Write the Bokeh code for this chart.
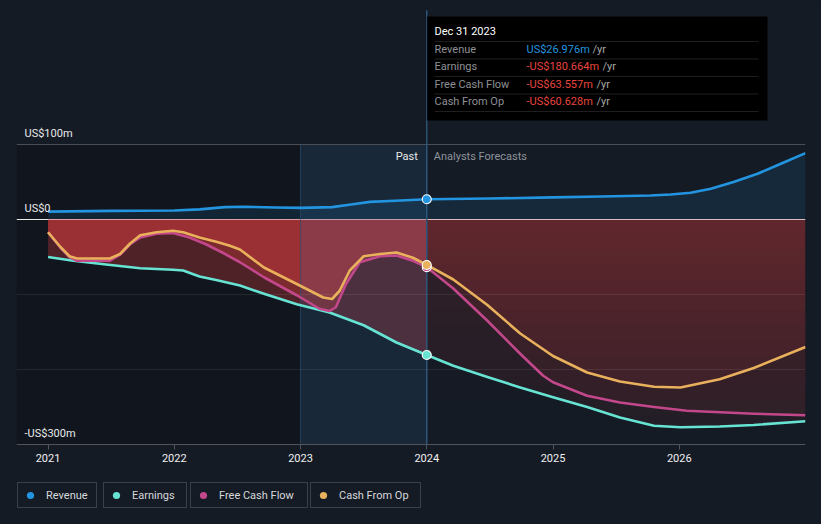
import numpy as np
from bokeh.plotting import figure
from bokeh.models import (Range1d, LinearAxis, FixedTicker, Span, BoxAnnotation, Label,
                          Legend, LegendItem, GlobalInlineStyleSheet)
from bokeh.embed import file_html
from bokeh.resources import INLINE

# ---------------- data (US$ millions, decimal years) ----------------
rev_t = [2021.0, 2021.5, 2022.0, 2022.2, 2022.4, 2022.55, 2022.8, 2023.0, 2023.25, 2023.4,
         2023.55, 2023.75, 2024.0, 2024.5, 2025.0, 2025.38, 2025.77, 2025.93, 2026.09, 2026.25,
         2026.43, 2026.62, 2026.8, 2027.0]
rev_v = [10.5, 11.5, 12.0, 13.5, 16.5, 17.0, 16.0, 15.5, 16.5, 20.0,
         23.5, 25.0, 26.976, 28.0, 29.5, 30.7, 32.0, 33.3, 35.6, 41.0,
         50.0, 61.0, 74.0, 88.5]

earn_t = [2021.0, 2021.2, 2021.46, 2021.73, 2021.99, 2022.07, 2022.2, 2022.34, 2022.52, 2022.71,
          2022.97, 2023.23, 2023.5, 2023.76, 2024.0, 2024.21, 2024.48, 2024.74, 2025.0, 2025.27,
          2025.53, 2025.8, 2026.01, 2026.32, 2026.59, 2027.0]
earn_v = [-50, -55, -60, -65, -67, -68, -76, -81, -88, -99,
          -113, -124, -141, -164, -180.664, -195, -210, -224, -237, -250,
          -264, -275, -277, -276, -274, -269]

fcf_t = [2021.0, 2021.1, 2021.17, 2021.23, 2021.49, 2021.57, 2021.65, 2021.73, 2021.86, 2021.99,
         2022.12, 2022.25, 2022.38, 2022.52, 2022.71, 2022.97, 2023.15, 2023.23, 2023.28, 2023.36,
         2023.47, 2023.63, 2023.76, 2023.89, 2024.0, 2024.21, 2024.48, 2024.74, 2024.92, 2025.0,
         2025.27, 2025.53, 2025.8, 2026.06, 2026.59, 2027.0]
fcf_v = [-17, -38, -50, -55, -55, -47, -33, -24, -19, -18,
         -24, -33, -44, -57, -77, -101, -119, -122, -117, -86,
         -57, -49, -48, -55, -63.557, -92, -135, -179, -208, -217,
         -235, -244, -250, -255, -259, -261]

cfo_t = [2021.0, 2021.1, 2021.17, 2021.23, 2021.49, 2021.57, 2021.65, 2021.73, 2021.86, 2021.99,
         2022.07, 2022.2, 2022.34, 2022.44, 2022.52, 2022.71, 2022.97, 2023.18, 2023.25, 2023.31,
         2023.39, 2023.5, 2023.63, 2023.76, 2023.89, 2024.0, 2024.21, 2024.48, 2024.74, 2025.0,
         2025.27, 2025.53, 2025.8, 2026.01, 2026.32, 2026.59, 2027.0]
cfo_v = [-17, -37, -49, -52, -52, -46, -32, -21, -17, -15,
         -17, -24, -30, -35, -40, -64, -86, -104, -106, -95,
         -68, -49, -46, -44, -51, -60.628, -80, -114, -152, -182,
         -204, -216, -223, -224, -213, -198, -170]

series_names = ["Revenue", "Earnings", "Free Cash Flow", "Cash From Op"]
year_ticks = [2021, 2022, 2023, 2024, 2025, 2026]
year_labels = ["2021", "2022", "2023", "2024", "2025", "2026"]
y_label_ticks = [100, 0, -300]
y_label_texts = ["US$100m", "US$0", "-US$300m"]
grid_ticks = [-100, -200]
top_grid = 100

now_t = 2024.0          # last reported point / start of forecasts
past_start = 2023.0     # highlighted "Past" band start
tooltip_date = "Dec 31 2023"
tooltip_values = [26.976, -180.664, -63.557, -60.628]

# ---------------- style ----------------
BG = "#151b25"
REV_C = "#2394df"
EARN_C = "#67e3d3"
FCF_C = "#c2478b"
CFO_C = "#e9b15c"
COLORS = [REV_C, EARN_C, FCF_C, CFO_C]
RED = "#e0403f"
FONT = "Roboto"
W, H = 821, 524

X0, X1 = 2020.75, 2027.0
PPX = 789 / (X1 - X0)       # pixels per year in frame (frame spans page x 16..805)
PPY = 0.75                  # pixels per US$m


def X(px):  # page pixel -> data x
    return X0 + (px - 16) / PPX


def Y(py):  # page pixel -> data y
    return (219 - py) / PPY


p = figure(width=W, height=H, x_range=Range1d(X0, X1), y_range=Range1d(Y(H), Y(0)),
           x_axis_type=None, y_axis_type=None, toolbar_location=None, output_backend="svg",
           min_border_left=16, min_border_right=16, min_border_top=0, min_border_bottom=0,
           background_fill_color=BG, border_fill_color=BG, outline_line_color=None)
p.stylesheets = [GlobalInlineStyleSheet(
    css="html, body { margin: 0; padding: 0; background-color: %s; overflow: hidden; }" % BG)]


def add(r):
    p.renderers.append(r)
    return r


# past dark region
add(BoxAnnotation(left=X0, right=past_start, top=top_grid, bottom=-300, fill_color="#000000",
                  fill_alpha=0.18, line_alpha=0, level="glyph"))
# zero line (under fills)
add(Span(location=0, dimension="width", line_color="#e8e8e8", line_width=1.2, level="glyph"))

# revenue area
p.varea(x=rev_t, y1=0, y2=rev_v, fill_color=REV_C, fill_alpha=0.12)

# negative areas: past (vivid) and forecast (muted)
for t, v in [(cfo_t, cfo_v), (fcf_t, fcf_v), (earn_t, earn_v)]:
    t = np.array(t)
    v = np.array(v, dtype=float)
    mp = t <= now_t
    mf = t >= now_t
    p.varea(x=t[mp], y1=v[mp], y2=0, fill_color=RED, fill_alpha=0.30)
    p.varea(x=t[mf], y1=v[mf], y2=0, fill_color=RED, fill_alpha=0.147)

# vertical fade of forecast fills
n_b = 15
edges = np.linspace(0, -300, n_b + 1)
for i in range(n_b):
    c = (edges[i] + edges[i + 1]) / 2
    add(BoxAnnotation(left=now_t, right=X1, top=edges[i], bottom=edges[i + 1], fill_color=BG,
                      fill_alpha=min(0.6, -c / 500), line_alpha=0, level="glyph"))

# highlighted past band
add(BoxAnnotation(left=past_start, right=now_t, top=top_grid, bottom=-300, fill_color="#2a7ab8",
                  fill_alpha=0.14, line_color="#2b4f70", line_alpha=0.7, line_width=1, level="glyph"))

# grid lines
add(Span(location=top_grid, dimension="width", line_color="#4a4e57", line_width=1, level="glyph"))
for g in grid_ticks:
    add(Span(location=g, dimension="width", line_color="#ffffff", line_alpha=0.08, line_width=1,
             level="glyph"))

# crosshair
add(BoxAnnotation(left=now_t, right=now_t, top=Y(10), bottom=-300, fill_alpha=0,
                  line_color="#2f5a80", line_alpha=0.9, line_width=1, level="glyph"))

# lines
lw = 2.6
for t, v, col in [(rev_t, rev_v, REV_C), (earn_t, earn_v, EARN_C), (fcf_t, fcf_v, FCF_C),
                  (cfo_t, cfo_v, CFO_C)]:
    p.line(t, v, line_color=col, line_width=lw, line_join="round")

# plain markers (used as legend glyphs), then outlined markers on top
legend_renderers = []
for val, col in zip(tooltip_values, COLORS):
    legend_renderers.append(p.scatter(x=[now_t], y=[val], marker="circle", size=8,
                                      fill_color=col, line_color=None))
for val, col in zip(tooltip_values, COLORS):
    p.scatter(x=[now_t], y=[val], marker="circle", size=9, fill_color=col,
              line_color="#ffffff", line_width=1.1)

# x axis
xaxis = LinearAxis(fixed_location=-300, ticker=FixedTicker(ticks=year_ticks),
                   major_label_overrides={y: s for y, s in zip(year_ticks, year_labels)},
                   axis_line_color="#50545c", major_tick_line_color="#50545c",
                   major_tick_in=0, major_tick_out=5, minor_tick_line_color=None,
                   major_label_text_color="#f0f0f0", major_label_text_font=FONT,
                   major_label_text_font_size="11px", major_label_standoff=4)
p.add_layout(xaxis, "below")

# y labels
for v, s in zip(y_label_ticks, y_label_texts):
    p.add_layout(Label(x=X0, y=v, x_offset=8, y_offset=5, text=s, text_baseline="bottom",
                       text_align="left", text_font=FONT, text_font_size="11px",
                       text_color="#e9e9e9"))

# Past / Analysts Forecasts
p.add_layout(Label(x=now_t, y=Y(156), x_offset=-9, text="Past", text_align="right",
                   text_baseline="middle", text_font=FONT, text_font_size="11px",
                   text_color="#e8e8e8"))
p.add_layout(Label(x=now_t, y=Y(156), x_offset=7, text="Analysts Forecasts", text_align="left",
                   text_baseline="middle", text_font=FONT, text_font_size="11px",
                   text_color="#8d939b"))

# tooltip
p.add_layout(BoxAnnotation(left=now_t, right=X(767), top=Y(16), bottom=Y(120),
                           fill_color="#000000", fill_alpha=1, line_alpha=0))
p.add_layout(BoxAnnotation(left=now_t, right=now_t, top=Y(10), bottom=Y(120), fill_alpha=0,
                           line_color="#2f5a80", line_width=1))
p.add_layout(Label(x=X(434), y=Y(31), text=tooltip_date, text_baseline="middle",
                   text_font=FONT, text_font_size="11px", text_color="#ffffff"))
for sy in [41, 58.5, 76, 93.5, 111]:
    p.add_layout(BoxAnnotation(left=X(434), right=X(758), top=Y(sy), bottom=Y(sy), fill_alpha=0,
                               line_color="#3c3c3c", line_width=1))
row_y = [49, 66, 84, 101]
yr_x = [592, 602, 596, 596]
for name, val, ry, yx in zip(series_names, tooltip_values, row_y, yr_x):
    txt = ("-" if val < 0 else "") + "US$%.3fm" % abs(val)
    col = REV_C if val >= 0 else "#e8453e"
    p.add_layout(Label(x=X(434), y=Y(ry), text=name, text_baseline="middle", text_font=FONT,
                       text_font_size="11px", text_color="#8e9094"))
    p.add_layout(Label(x=X(526), y=Y(ry), text=txt, text_baseline="middle", text_font=FONT,
                       text_font_size="11px", text_color=col))
    p.add_layout(Label(x=X(yx), y=Y(ry), text="/yr", text_baseline="middle", text_font=FONT,
                       text_font_size="11px", text_color="#a8a8a8"))

# legends (one box per series)
leg_x = [1, 87, 174, 294]
leg_w = [47, 51, 85, 78]
for name, r, lx, lwid in zip(series_names, legend_renderers, leg_x, leg_w):
    lg = Legend(items=[LegendItem(label=name, renderers=[r])], location=(lx, 16),
                orientation="horizontal", padding=3, margin=0, glyph_width=18, glyph_height=18,
                label_standoff=7, label_width=lwid, label_height=18, label_text_font=FONT,
                label_text_font_size="11px", label_text_color="#d5d8dc",
                background_fill_color=BG, background_fill_alpha=1,
                border_line_color="#3a3f48", border_line_width=1, border_line_alpha=1)
    p.add_layout(lg, "center")

open("out.html", "w").write(file_html(p, INLINE))
